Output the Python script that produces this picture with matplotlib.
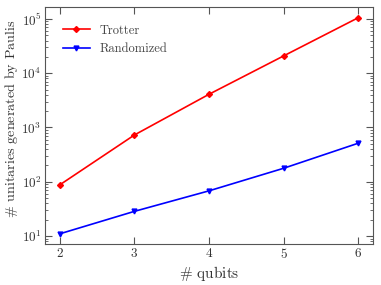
import matplotlib
matplotlib.use('Agg')
import matplotlib.pyplot as plt

# qubit counts and number of unitaries
qubits = [2, 3, 4, 5, 6]
trotter = [88, 728, 4090, 20800, 105000]
randomized = [11, 28.5, 68, 177, 512]

plt.rcParams['font.family'] = 'cmr10'
plt.rcParams['mathtext.fontset'] = 'cm'
plt.rcParams['axes.formatter.use_mathtext'] = True
plt.rcParams['axes.unicode_minus'] = False

fig = plt.figure(figsize=(3.81, 2.85), dpi=100)
ax = fig.add_axes([45/381, 1 - 244/285, (373-45)/381, (244-7)/285])

ax.plot(qubits, trotter, marker='D', markersize=3, color='red', lw=1.2, label='Trotter')
ax.plot(qubits, randomized, marker='v', markersize=3.5, color='blue', lw=1.2, label='Randomized')
ax.set_yscale('log')
ax.set_xlim(1.8, 6.2)
ax.set_ylim(10**0.853, 10**5.22)
ax.set_xticks(qubits)
ax.set_xlabel(r'$\#$ qubits', fontsize=11, labelpad=2, color='#333333')
ax.set_ylabel(r'$\#$ unitaries generated by Paulis', fontsize=10.2, color='#333333')
ax.yaxis.set_label_coords(-0.075, 0.527)
ax.tick_params(which='both', direction='in', top=True, right=True, labelsize=9.5, pad=2.5, colors='#555555', labelcolor='#333333')
ax.tick_params(which='major', length=5)
ax.tick_params(which='minor', length=2.5)
for s in ax.spines.values():
    s.set_color('#555555')
leg = ax.legend(loc='upper left', frameon=False, fontsize=9, handlelength=2.2, borderaxespad=1.0, labelspacing=0.5)
for t in leg.get_texts():
    t.set_color('#444444')

fig.savefig('out.png', dpi=100)
